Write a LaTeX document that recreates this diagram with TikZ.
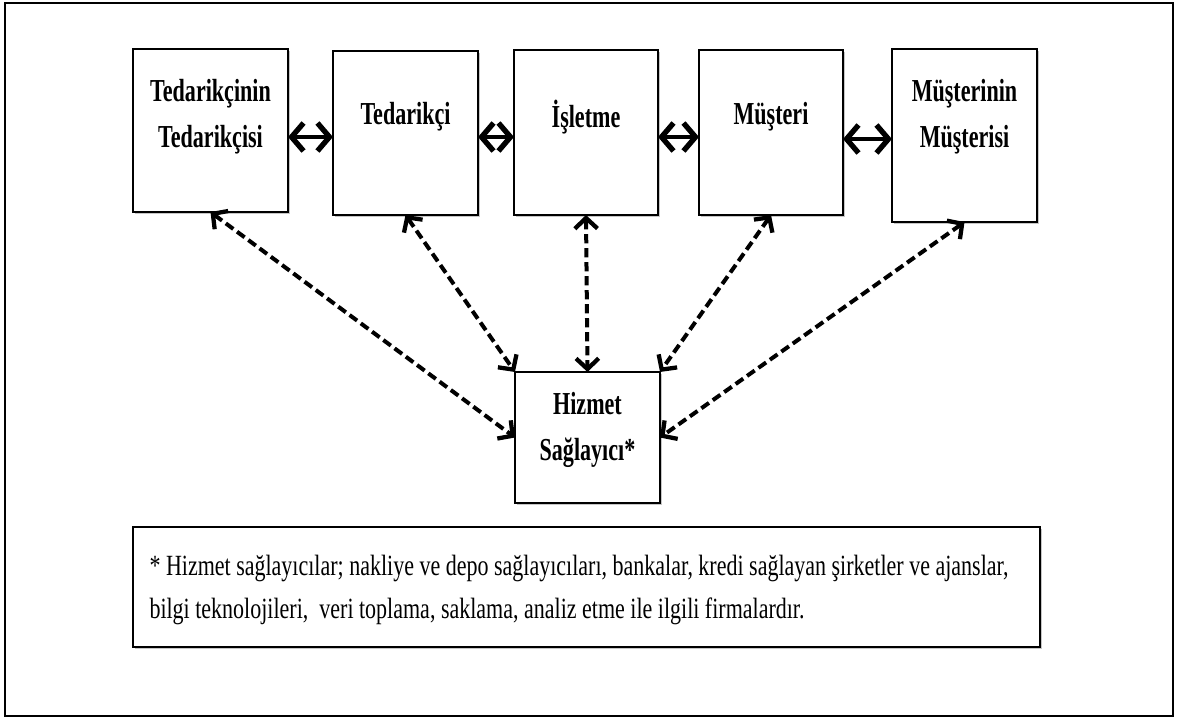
\documentclass[tikz,border=0pt]{standalone}
\usepackage{fontspec}
\setmainfont{Liberation Serif}[FakeStretch=0.69]
\newfontfamily\notfont{Liberation Serif}[FakeStretch=0.75]
\usetikzlibrary{arrows.meta,shadows}

\tikzset{
	blok/.style={draw, line width=1.8pt, fill=white, inner sep=0pt, outer sep=0pt,
		drop shadow={shadow xshift=1.8pt, shadow yshift=-1.8pt, opacity=0.45}},
	etiket/.style={font=\fontsize{24}{34.5}\selectfont\bfseries, align=center, inner sep=0pt},
	notyazi/.style={font=\notfont\fontsize{22}{32.5}\selectfont, align=left, inner sep=0pt, anchor=west},
	ciftok/.style={line width=3.5pt, >={Straight Barb[length=9pt,width=21pt,line width=4pt]}, <->},
	kesikok/.style={line width=3pt, dash pattern=on 7pt off 3.5pt, >={Straight Barb[length=8pt,width=17pt,line width=3.2pt]}, <->}}
\tikzset{every picture/.style={line width=0.75pt}}

\begin{document}
\begin{tikzpicture}[x=0.75pt,y=0.75pt,yscale=-1,xscale=1]
	\useasboundingbox (0,0) rectangle (1180,719);

	%Shape: Rectangle [outer frame]
	\draw [line width=2pt] (5,3) rectangle (1173,716) ;

	%Shape: Rectangle
	\node [blok, minimum width=116.3pt, minimum height=122.3pt] (b1) at (210.5,130.5) {};
	%Shape: Rectangle
	\node [blok, minimum width=108.8pt, minimum height=123pt] (b2) at (405.5,133) {};
	%Shape: Rectangle
	\node [blok, minimum width=108pt, minimum height=123.8pt] (b3) at (586,132.5) {};
	%Shape: Rectangle
	\node [blok, minimum width=108pt, minimum height=123.8pt] (b4) at (771,132.5) {};
	%Shape: Rectangle
	\node [blok, minimum width=108.8pt, minimum height=129.8pt] (b5) at (964.5,135.5) {};
	%Shape: Rectangle
	\node [blok, minimum width=108.8pt, minimum height=98.3pt] (hz) at (587.5,437.5) {};
	%Shape: Rectangle
	\node [blok, minimum width=680.3pt, minimum height=90pt] (nt) at (586.5,587) {};

	%Straight Lines
	\draw [ciftok] (b1.east |- 0,137) -- (b2.west |- 0,137) ;
	\draw [ciftok] (b2.east |- 0,137) -- (b3.west |- 0,137) ;
	\draw [ciftok] (b3.east |- 0,137) -- (b4.west |- 0,137) ;
	\draw [ciftok] (b4.east |- 0,139) -- (b5.west |- 0,139) ;

	%Dashed Lines
	\draw [kesikok] (b1.south) -- (hz.west) ;
	\draw [kesikok] (b2.south) -- (hz.north west) ;
	\draw [kesikok] (b3.south) -- (hz.north) ;
	\draw [kesikok] (b4.south) -- (hz.north east) ;
	\draw [kesikok] (b5.south) -- (hz.east) ;

	% Text Node
	\node [etiket] (t1) at (210.5,117) {Tedarikçinin\\Tedarikçisi};
	% Text Node
	\node [etiket] (t2) at (405.5,117) {Tedarikçi};
	% Text Node
	\node [etiket] (t3) at (586,117) {İşletme};
	% Text Node
	\node [etiket] (t4) at (771,117) {Müşteri};
	% Text Node
	\node [etiket] (t5) at (964.5,117) {Müşterinin\\Müşterisi};
	% Text Node
	\node [etiket] (th) at (587.5,430) {Hizmet\\Sağlayıcı*};
	% Text Node
	\node [notyazi] (tn) at (149,590) {* Hizmet sağlayıcılar; nakliye ve depo sağlayıcıları, bankalar, kredi sağlayan şirketler ve ajanslar,\\bilgi teknolojileri,\ \ veri toplama, saklama, analiz etme ile ilgili firmalardır.};

\end{tikzpicture}
\end{document}
